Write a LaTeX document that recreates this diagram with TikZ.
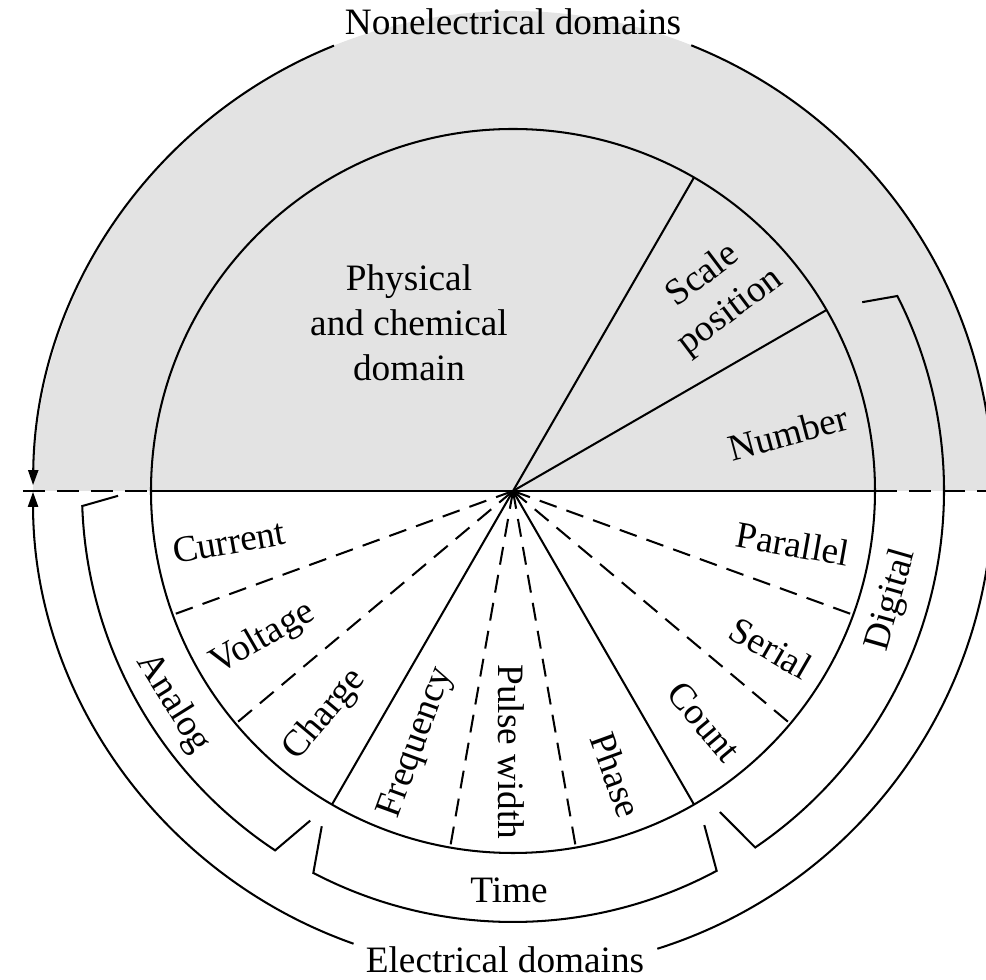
\documentclass[tikz,border=0pt]{standalone}
\usepackage{fontspec}
\setmainfont{Liberation Serif}
\usetikzlibrary{arrows.meta}
\definecolor{shadegray}{gray}{0.89}
\begin{document}
\begin{tikzpicture}[x=0.25mm,y=0.25mm,
  ln/.style={line width=1.45pt, line cap=butt},
  dsh/.style={ln, dash pattern=on 4.5mm off 2.6mm},
  hdsh/.style={ln, dash pattern=on 5.5mm off 3mm},
  lbl/.style={font=\fontsize{26.5}{32}\selectfont, inner sep=0pt, align=center},
  tipend/.style={-{Triangle[length=3.75mm,width=2.5mm]}},
  tipstart/.style={{Triangle[length=3.75mm,width=2.5mm]}-}]
\useasboundingbox (-513,-489) rectangle (473,491);
\clip (-513,-489) rectangle (473,491);
% shaded nonelectrical half
\fill[shadegray] (480,0) arc (0:180:480) -- cycle;
% key coordinates
\coordinate (O) at (0,0);
\coordinate (L) at (180:362);
\coordinate (R) at (0:362);
\coordinate (Lfar) at (-490,0);
\coordinate (Rfar) at (480,0);
% inner circle
\draw[ln] (O) circle[radius=362];
% horizontal divider
\draw[ln] (L) -- (R);
\draw[hdsh] (Lfar) -- (L);
\draw[hdsh] (R) -- (Rfar);
% solid radial lines
\foreach \a in {30,60,240,300} \draw[ln] (O) -- (\a:362);
% dashed radial lines
\foreach \a in {200,220,260,280,320,340} \draw[dsh] (O) -- (\a:362);
% outer arcs
\draw[ln, tipend] (111.9:480) arc (111.9:179.3:480);
\draw[ln, tipstart] (180.1:480) arc (180.1:250.6:480);
\draw[ln] (68.2:480) arc (68.2:0:480);
\draw[ln] (287.5:480) arc (287.5:360:480);
% brackets
\draw[ln] (180.7:395) -- (182:431) arc (182:236.5:431) -- (238.4:387);
\draw[ln] (240.3:386) -- (242.4:431) arc (242.4:298.2:431) -- (299.8:385);
\draw[ln] (302.8:382) -- (304.2:431) arc (304.2:386.9:431) -- (388.4:397);
% outer labels
\node[lbl, anchor=base] (nonel) at (0,456) {Nonelectrical domains};
\node[lbl, anchor=base] (elec) at (-8,-482) {Electrical domains};
% bracket labels
\node[lbl, rotate=-58] (analog) at (212:401) {Analog};
\node[lbl] (time) at (-4,-399) {Time};
\node[lbl, rotate=74] (digital) at (379,-109) {Digital};
% upper half labels
\node[lbl] (phys) at (-104,168) {Physical\\and chemical\\domain};
\node[lbl, rotate=37] (scale) at (204,197) {Scale\\position};
\node[lbl, rotate=15] (number) at (275,58) {Number};
% lower half labels
\node[lbl, rotate=10] (current) at (-284,-51) {Current};
\node[lbl, rotate=30] (voltage) at (-250,-148) {Voltage};
\node[lbl, rotate=50] (charge) at (-188,-224) {Charge};
\node[lbl, rotate=70] (freq) at (-96,-252) {Frequency};
\node[lbl, rotate=-90] (pulse) at (-2,-261) {Pulse width};
\node[lbl, rotate=-70] (phase) at (103,-284) {Phase};
\node[lbl, rotate=-50] (count) at (191,-231) {Count};
\node[lbl, rotate=-30] (serial) at (258,-157) {Serial};
\node[lbl, rotate=-10] (parallel) at (280,-53) {Parallel};
\end{tikzpicture}
\end{document}
